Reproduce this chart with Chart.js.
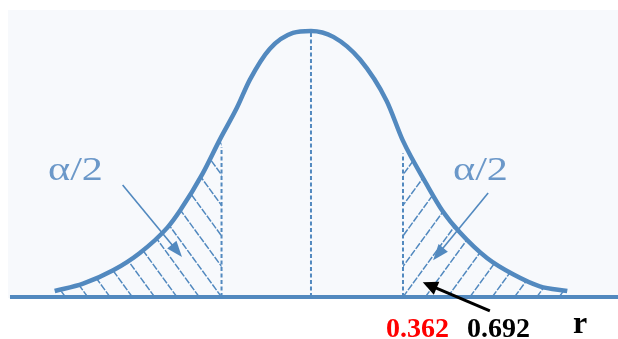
<!DOCTYPE html>
<html>
<head>
<meta charset="utf-8">
<script src="https://cdn.jsdelivr.net/npm/chart.js@4"></script>
<style>
  html, body { margin: 0; padding: 0; background: #ffffff; }
  canvas { display: block; }
</style>
</head>
<body>
<canvas id="curve" width="618" height="339"></canvas>
<script>
// -----------------------------
// Data (z = distance from centre, d = curve height)
// -----------------------------
const curveZ = [-2.98, -2.65, -2.30, -1.99, -1.67, -1.52, -1.26, -1.06, -0.86, -0.71, -0.48, -0.21, 0,
                0.26, 0.57, 0.88, 1.07, 1.34, 1.53, 1.73, 2.05, 2.35, 2.66, 2.98];
const curveD = [0.009, 0.020, 0.040, 0.066, 0.104, 0.130, 0.185, 0.236, 0.284, 0.326, 0.372, 0.396, 0.399,
                0.390, 0.356, 0.294, 0.234, 0.170, 0.129, 0.097, 0.058, 0.034, 0.016, 0.009];

const critZ = [-1.04, 0, 1.07];          // dashed verticals
const critTop = [0.225, 0.399, 0.215];   // where they meet the curve
const axisZ = [-3.50, 3.62];             // baseline extent

const tailLabel = "\u03b1/2";
const valueLabels = ["0.362", "0.692"];
const valueColors = ["#ff0000", "#000000"];
const axisLabel = "r";

const BLUE = "#5289bf";

// -----------------------------
// Background, hatching, labels
// -----------------------------
const paperPlugin = {
    id: "paper",
    beforeDraw(chart) {
        const ctx = chart.ctx;
        ctx.save();
        ctx.fillStyle = "#ffffff";
        ctx.fillRect(0, 0, chart.width, chart.height);
        ctx.fillStyle = "#f7f9fc";
        ctx.fillRect(8, 10, chart.width - 8, 288);
        ctx.restore();
    }
};

function tailPath(chart, side) {
    const pts = chart.getDatasetMeta(1).data;
    const xs = chart.scales.x, ys = chart.scales.y;
    const base = ys.getPixelForValue(0);
    const cz = side < 0 ? critZ[0] : critZ[2];
    const cx = xs.getPixelForValue(cz);
    // curve height at the critical value, by linear interpolation
    let cd = 0;
    for (let i = 0; i < curveZ.length - 1; i++) {
        if (curveZ[i] <= cz && curveZ[i + 1] >= cz) {
            const t = (cz - curveZ[i]) / (curveZ[i + 1] - curveZ[i]);
            cd = curveD[i] + t * (curveD[i + 1] - curveD[i]);
        }
    }
    const cy = ys.getPixelForValue(cd);
    const path = new Path2D();
    if (side < 0) {
        const tail = pts.filter(p => p.x < cx);
        path.moveTo(tail[0].x, base);
        tail.forEach(p => path.lineTo(p.x, p.y));
        path.lineTo(cx, cy);
        path.lineTo(cx, base);
    } else {
        const tail = pts.filter(p => p.x > cx);
        path.moveTo(cx, base);
        path.lineTo(cx, cy);
        tail.forEach(p => path.lineTo(p.x, p.y));
        path.lineTo(tail[tail.length - 1].x, base);
    }
    path.closePath();
    return { path, cx, base };
}

const hatchPlugin = {
    id: "hatch",
    beforeDatasetsDraw(chart) {
        const ctx = chart.ctx;
        const slope = 1.37, step = 22.3;
        [-1, 1].forEach(side => {
            const { path, cx, base } = tailPath(chart, side);
            ctx.save();
            ctx.clip(path);
            ctx.strokeStyle = BLUE;
            ctx.lineWidth = 1.5;
            ctx.setLineDash([7, 1.5]);
            for (let k = -20; k <= 20; k++) {
                const bx = cx + side * k * step;
                ctx.beginPath();
                ctx.moveTo(bx, base);
                ctx.lineTo(bx + side * 300, base - slope * 300);
                ctx.stroke();
            }
            ctx.restore();
        });
    }
};

function arrow(ctx, x1, y1, x2, y2, len, half) {
    const a = Math.atan2(y2 - y1, x2 - x1);
    ctx.beginPath();
    ctx.moveTo(x1, y1);
    ctx.lineTo(x2 - Math.cos(a) * len * 0.6, y2 - Math.sin(a) * len * 0.6);
    ctx.stroke();
    ctx.beginPath();
    ctx.moveTo(x2, y2);
    ctx.lineTo(x2 - Math.cos(a) * len + Math.sin(a) * half, y2 - Math.sin(a) * len - Math.cos(a) * half);
    ctx.lineTo(x2 - Math.cos(a) * len - Math.sin(a) * half, y2 - Math.sin(a) * len + Math.cos(a) * half);
    ctx.closePath();
    ctx.fill();
}

const notesPlugin = {
    id: "notes",
    afterDatasetsDraw(chart) {
        const ctx = chart.ctx;
        const xs = chart.scales.x, ys = chart.scales.y;
        const px = z => xs.getPixelForValue(z);
        const py = d => ys.getPixelForValue(d);
        ctx.save();

        // blue pointers into the tails
        ctx.strokeStyle = BLUE;
        ctx.fillStyle = BLUE;
        ctx.lineWidth = 1.6;
        arrow(ctx, px(-2.19), py(0.168), px(-1.50), py(0.060), 16, 6);
        arrow(ctx, px(2.06), py(0.156), px(1.42), py(0.055), 16, 6);

        // alpha/2 labels
        ctx.fillStyle = "#6b98c9";
        ctx.font = "34px 'Liberation Serif'";
        ctx.textBaseline = "alphabetic";
        const w = ctx.measureText(tailLabel).width;
        [[48, 180], [453, 180]].forEach(([x, y]) => {
            ctx.save();
            ctx.translate(x, y);
            ctx.scale(55 / w, 1);
            ctx.fillText(tailLabel, 0, 0);
            ctx.restore();
        });

        // black arrow to the critical value
        ctx.strokeStyle = "#000000";
        ctx.fillStyle = "#000000";
        ctx.lineWidth = 3;
        arrow(ctx, px(2.08), py(-0.021), px(1.30), py(0.022), 15, 7);

        // values under the axis
        ctx.font = "bold 28px 'Liberation Serif'";
        ctx.fillStyle = valueColors[0];
        ctx.fillText(valueLabels[0], 386, 337);
        ctx.fillStyle = valueColors[1];
        ctx.fillText(valueLabels[1], 467, 337);
        ctx.font = "bold 32px 'Liberation Serif'";
        ctx.fillText(axisLabel, 573, 333);
        ctx.restore();
    }
};

// -----------------------------
// Chart
// -----------------------------
const curvePoints = curveZ.map((z, i) => ({ x: z, y: curveD[i] }));
const dashSets = critZ.map((z, i) => ({
    data: [{ x: z, y: 0 }, { x: z, y: critTop[i] }],
    borderColor: BLUE,
    borderWidth: 2,
    borderDash: [4, 2.5],
    pointRadius: 0,
    showLine: true
}));

new Chart(document.getElementById("curve"), {
    type: "scatter",
    data: {
        datasets: [
            {
                data: axisZ.map(z => ({ x: z, y: 0 })),
                borderColor: BLUE, borderWidth: 4, pointRadius: 0, showLine: true, order: 0
            },
            {
                data: curvePoints,
                borderColor: BLUE, borderWidth: 4.5, pointRadius: 0, showLine: true,
                cubicInterpolationMode: "monotone", order: 1
            },
            ...dashSets.map(s => ({ ...s, order: 2 }))
        ]
    },
    options: {
        responsive: false,
        animation: false,
        devicePixelRatio: 1,
        layout: { padding: 0 },
        plugins: { legend: { display: false }, tooltip: { enabled: false } },
        scales: {
            x: { type: "linear", min: -3.616, max: 3.570, display: false },
            y: { type: "linear", min: -0.063, max: 0.4453, display: false }
        }
    },
    plugins: [paperPlugin, hatchPlugin, notesPlugin]
});
</script>
</body>
</html>
